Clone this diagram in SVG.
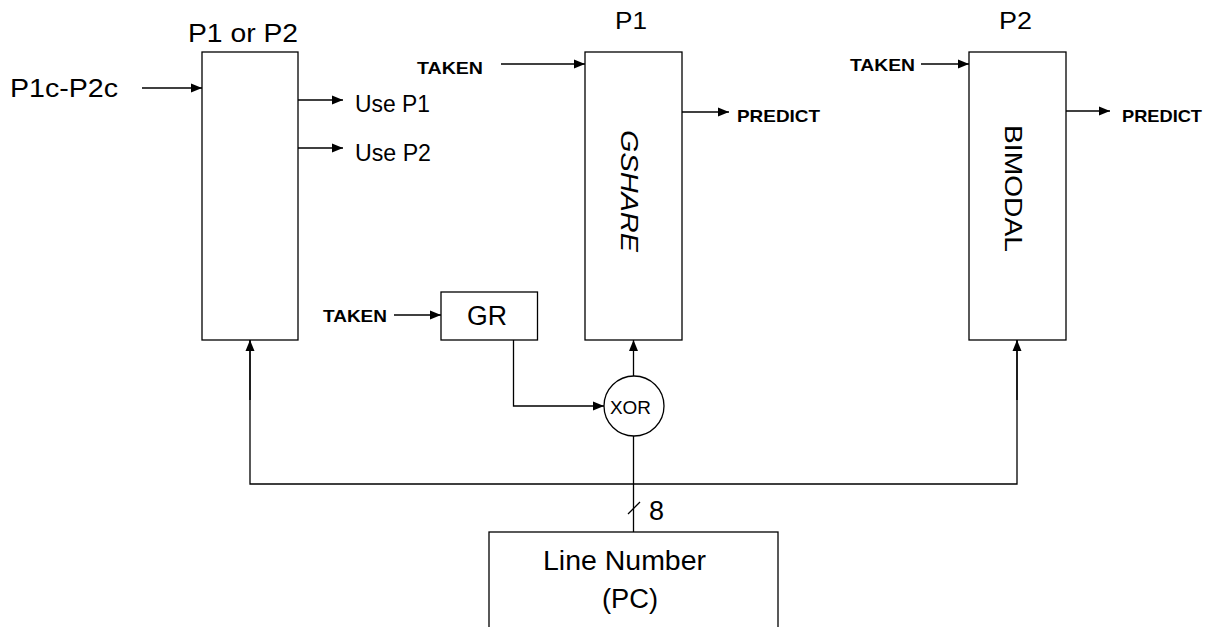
<svg xmlns="http://www.w3.org/2000/svg" width="1210" height="627" viewBox="0 0 1210 627">
<defs>
<marker id="ah" markerUnits="userSpaceOnUse" markerWidth="12" markerHeight="10" refX="11" refY="5" orient="auto">
<path d="M0,0.5 L11,5 L0,9.5 Z" fill="#000"/>
</marker>
<style>
.box{fill:#fff;stroke:#000;stroke-width:1.3}
.ln{fill:none;stroke:#000;stroke-width:1.3}
.t{font-family:"Liberation Sans",Arial,sans-serif;fill:#000}
.b{font-family:"Liberation Sans",Arial,sans-serif;font-weight:bold;font-size:17px;fill:#000}
</style>
</defs>
<rect width="1210" height="627" fill="#fff"/>

<g id="connectors">
<line class="ln" x1="142" y1="88" x2="202" y2="88" marker-end="url(#ah)"/>
<line class="ln" x1="298" y1="100" x2="343" y2="100" marker-end="url(#ah)"/>
<line class="ln" x1="298" y1="148" x2="343" y2="148" marker-end="url(#ah)"/>
<line class="ln" x1="501" y1="64" x2="585" y2="64" marker-end="url(#ah)"/>
<line class="ln" x1="682" y1="112" x2="729" y2="112" marker-end="url(#ah)"/>
<line class="ln" x1="921" y1="64" x2="969" y2="64" marker-end="url(#ah)"/>
<line class="ln" x1="1066" y1="111" x2="1110" y2="111" marker-end="url(#ah)"/>
<line class="ln" x1="394" y1="315" x2="441" y2="315" marker-end="url(#ah)"/>
<polyline class="ln" points="513.5,340 513.5,406 604,406" marker-end="url(#ah)"/>
<line class="ln" x1="633.5" y1="376" x2="633.5" y2="340" marker-end="url(#ah)"/>
<line class="ln" x1="633.5" y1="436" x2="633.5" y2="532"/>
<polyline class="ln" points="250,340 250,484 1017,484 1017,340"/>
<line class="ln" x1="250" y1="400" x2="250" y2="340" marker-end="url(#ah)"/>
<line class="ln" x1="1017" y1="400" x2="1017" y2="340" marker-end="url(#ah)"/>
<line class="ln" x1="628" y1="514" x2="640" y2="502"/>
<text class="t" x="649" y="520" font-size="27">8</text>
</g>

<g id="selector">
<rect class="box" x="202" y="52" width="96" height="288"/>
<text class="t" x="188" y="42" font-size="25" textLength="110" lengthAdjust="spacingAndGlyphs">P1 or P2</text>
<text class="t" x="10" y="97" font-size="26" textLength="108" lengthAdjust="spacingAndGlyphs">P1c-P2c</text>
<text class="t" x="355" y="112" font-size="24" textLength="75" lengthAdjust="spacingAndGlyphs">Use P1</text>
<text class="t" x="355" y="161" font-size="24" textLength="76" lengthAdjust="spacingAndGlyphs">Use P2</text>
</g>

<g id="gshare">
<rect class="box" x="585" y="52" width="97" height="288"/>
<text class="t" x="615" y="29" font-size="24" textLength="32" lengthAdjust="spacingAndGlyphs">P1</text>
<text class="b" x="417" y="74" textLength="66" lengthAdjust="spacingAndGlyphs">TAKEN</text>
<text class="b" x="737" y="122" textLength="83" lengthAdjust="spacingAndGlyphs">PREDICT</text>
<text class="t" transform="translate(621,130) rotate(90)" font-size="24" font-style="italic" textLength="122" lengthAdjust="spacingAndGlyphs">GSHARE</text>
</g>

<g id="bimodal">
<rect class="box" x="969" y="52" width="97" height="288"/>
<text class="t" x="999" y="29" font-size="24" textLength="33" lengthAdjust="spacingAndGlyphs">P2</text>
<text class="b" x="850" y="71" textLength="65" lengthAdjust="spacingAndGlyphs">TAKEN</text>
<text class="b" x="1122" y="122" textLength="80" lengthAdjust="spacingAndGlyphs">PREDICT</text>
<text class="t" transform="translate(1005,125) rotate(90)" font-size="24" textLength="127" lengthAdjust="spacingAndGlyphs">BIMODAL</text>
</g>

<g id="gr">
<rect class="box" x="441" y="292" width="96.5" height="48"/>
<text class="b" x="323" y="322" textLength="64" lengthAdjust="spacingAndGlyphs">TAKEN</text>
<text class="t" x="467" y="325" font-size="27" textLength="40" lengthAdjust="spacingAndGlyphs">GR</text>
</g>

<g id="xor">
<circle class="box" cx="634" cy="406" r="30"/>
<text class="t" x="610" y="414" font-size="18" textLength="41" lengthAdjust="spacingAndGlyphs">XOR</text>
</g>

<g id="pc">
<rect class="box" x="489" y="532" width="289" height="120"/>
<text class="t" x="543" y="570" font-size="27" textLength="163" lengthAdjust="spacingAndGlyphs">Line Number</text>
<text class="t" x="602" y="608" font-size="27" textLength="56" lengthAdjust="spacingAndGlyphs">(PC)</text>
</g>
</svg>
